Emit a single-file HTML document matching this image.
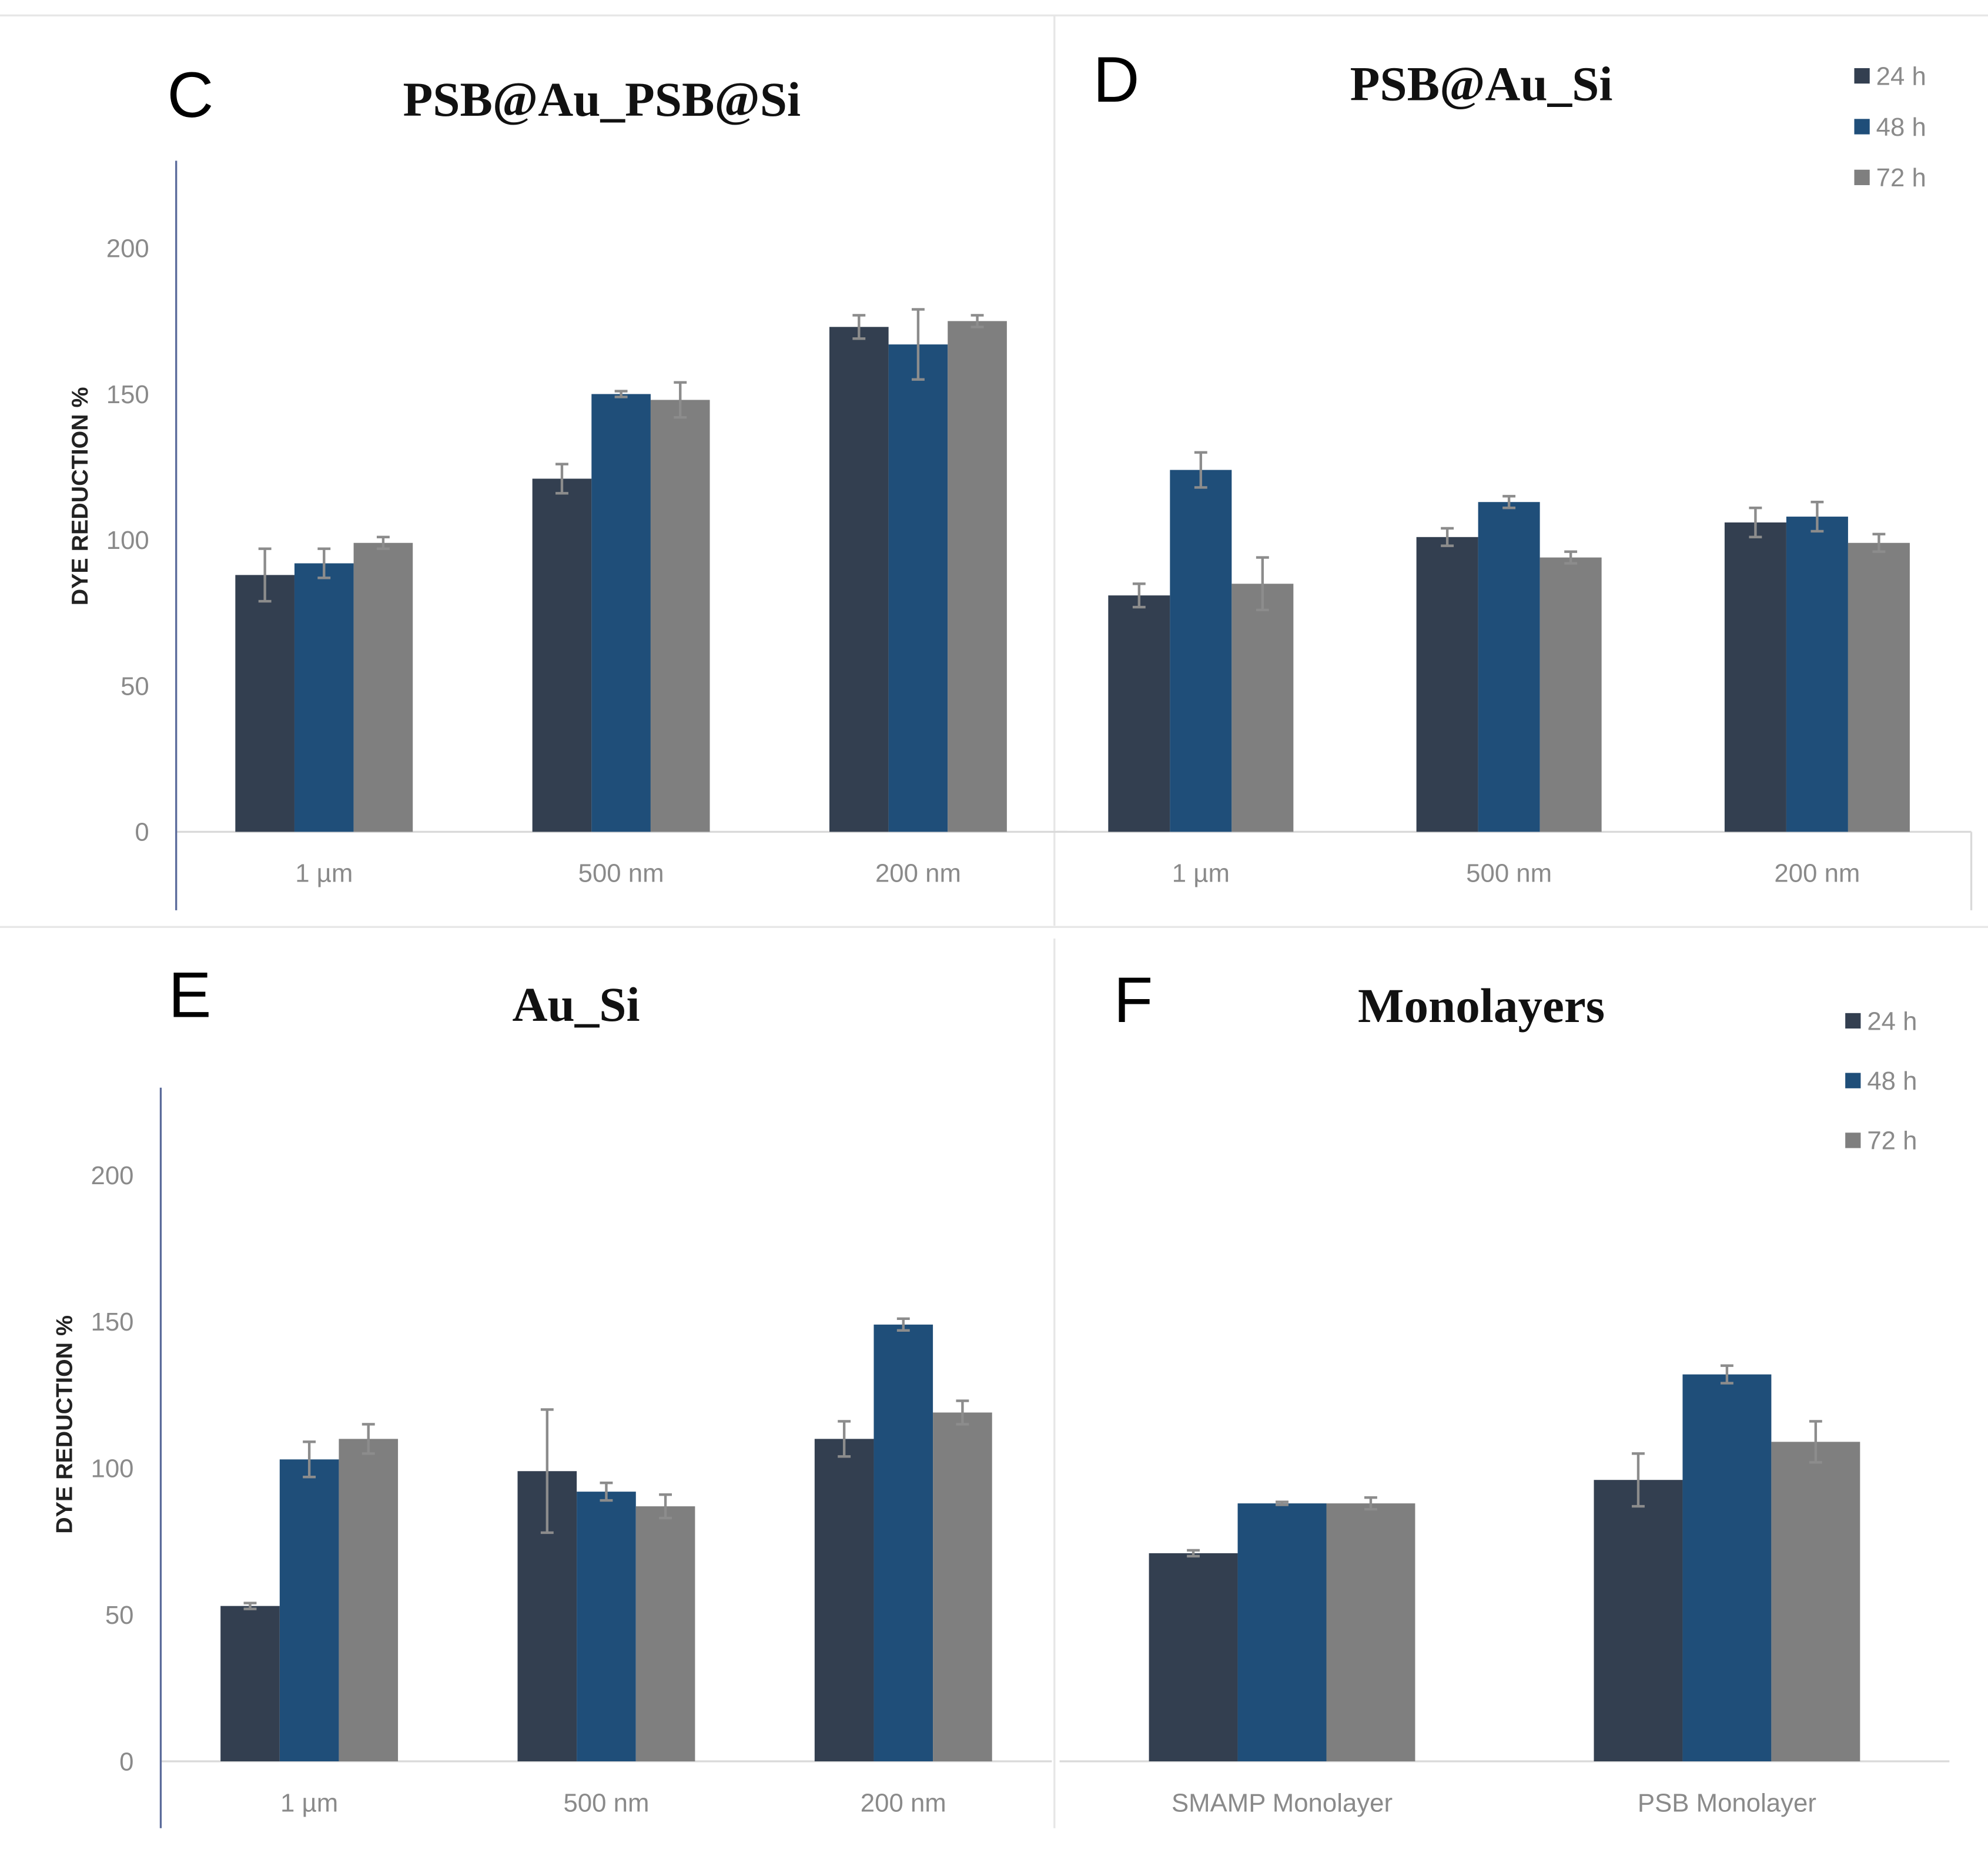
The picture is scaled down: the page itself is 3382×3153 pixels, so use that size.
<!DOCTYPE html>
<html><head><meta charset="utf-8"><style>
html,body{margin:0;padding:0;background:#fff;}
svg{display:block;}
</style></head><body>
<svg id="fig" width="3382" height="3153" viewBox="0 0 1546 1441.3" preserveAspectRatio="none" xmlns="http://www.w3.org/2000/svg">
<rect width="1546" height="1441.3" fill="#fff"/>
<g stroke="#e6e6e6" stroke-width="1.5">
<line x1="0" y1="12" x2="1546" y2="12"/>
<line x1="820" y1="12" x2="820" y2="720"/>
<line x1="0" y1="721" x2="1546" y2="721"/>
<line x1="820" y1="730" x2="820" y2="1422"/>
</g>
<g id="charts"></g>
</svg>
<script>
const seriesNames = ["24 h", "48 h", "72 h"];
const colors = ["#333f50", "#1f4e79", "#7f7f7f"];
const yTicks = [0, 50, 100, 150, 200];

const catsC = ["1 µm", "500 nm", "200 nm"];
const c24 = [88, 121, 173], c48 = [92, 150, 167], c72 = [99, 148, 175];
const cErr24 = [9, 5, 4], cErr48 = [5, 1, 12], cErr72 = [2, 6, 2];

const catsD = ["1 µm", "500 nm", "200 nm"];
const d24 = [81, 101, 106], d48 = [124, 113, 108], d72 = [85, 94, 99];
const dErr24 = [4, 3, 5], dErr48 = [6, 2, 5], dErr72 = [9, 2, 3];

const catsE = ["1 µm", "500 nm", "200 nm"];
const e24 = [53, 99, 110], e48 = [103, 92, 149], e72 = [110, 87, 119];
const eErr24 = [1, 21, 6], eErr48 = [6, 3, 2], eErr72 = [5, 4, 4];

const catsF = ["SMAMP Monolayer", "PSB Monolayer"];
const f24 = [71, 96], f48 = [88, 132], f72 = [88, 109];
const fErr24 = [1, 9], fErr48 = [0.5, 3], fErr72 = [2, 7];

const NS = "http://www.w3.org/2000/svg";
const root = document.getElementById("charts");
function mk(tag, attrs, parent, text) {
  const e = document.createElementNS(NS, tag);
  for (const k in attrs) e.setAttribute(k, attrs[k]);
  if (text !== undefined) e.textContent = text;
  parent.appendChild(e);
  return e;
}

function panel(p) {
  const g = mk("g", {}, root);
  
  
  const y = v => p.y0 - v * p.ppu;
  const groupW = (p.x1 - p.x0) / p.cats.length;
  const xc = i => p.x0 + groupW * (i + 0.5) + p.shift;
  const ax = mk("line", {x1: p.axStart, y1: p.y0, x2: p.x1, y2: p.y0, stroke: "#d9d9d9", "stroke-width": 1.5}, g);
  
  
  if (p.yAxis) {
    const ya = mk("line", {x1: p.axStart, y1: p.yTop, x2: p.axStart, y2: p.yBot, stroke: "#5a6a9a", "stroke-width": 1.5}, g);
    
    
    yTicks.forEach(t => {
      const tl = mk("text", {x: p.axStart - 21, y: y(t) + 7, "text-anchor": "end", "font-family": "Liberation Sans, sans-serif", "font-size": 20, fill: "#8a8a8a"}, g, t);
      
      
    });
    const yt = mk("text", {transform: `translate(${p.yTitleX},${p.yTitleY}) rotate(-90)`, "text-anchor": "middle", "font-family": "Liberation Sans, sans-serif", "font-size": 18, "font-weight": "bold", fill: "#222"}, g, "DYE  REDUCTION %");
    
    
  }
  if (p.rightEdge) {
    const re = mk("line", {x1: p.x1, y1: p.y0, x2: p.x1, y2: p.y0 + 61, stroke: "#d9d9d9", "stroke-width": 1.5}, g);
    
    
  }
  p.series.forEach((vals, s) => {
    vals.forEach((v, i) => {
      const bx = xc(i) - 1.5 * p.bw + s * p.bw;
      const r = mk("rect", {x: bx, y: y(v), width: p.bw, height: v * p.ppu, fill: colors[s]}, g);
      
      
      const e = p.errs[s][i], cx = bx + p.bw / 2;
      const eb = mk("path", {d: `M${cx} ${y(v + e)}V${y(v - e)}M${cx - 5} ${y(v + e)}h10M${cx - 5} ${y(v - e)}h10`, stroke: "#8c8c8c", "stroke-width": 2, fill: "none"}, g);
      
      
    });
  });
  p.cats.forEach((c, i) => {
    const t = mk("text", {x: xc(i), y: p.y0 + 39, "text-anchor": "middle", "font-family": "Liberation Sans, sans-serif", "font-size": 20, fill: "#8a8a8a"}, g, c);
    
    
  });
  const tt = mk("text", {x: p.titleX, y: p.titleY, "text-anchor": "middle", "font-family": "Liberation Serif, serif", "font-size": 38, "font-weight": "bold", fill: "#111"}, g, p.title);
  
  
  const lt = mk("text", {x: p.letterX, y: p.letterY, "font-family": "Liberation Sans, sans-serif", "font-size": 50, fill: "#000"}, g, p.letter);
  
  
  if (p.legend) {
    seriesNames.forEach((n, s) => {
      const ly = p.legend.y + s * p.legend.dy;
      const sq = mk("rect", {x: p.legend.x, y: ly - 6, width: 12, height: 12, fill: colors[s]}, g);
      
      
      const lx = mk("text", {x: p.legend.x + 17, y: ly + 7, "font-family": "Liberation Sans, sans-serif", "font-size": 20, fill: "#8a8a8a"}, g, n);
      
      
    });
  }
}

panel({id: "chart-c", cats: catsC, series: [c24, c48, c72], errs: [cErr24, cErr48, cErr72],
  x0: 137, x1: 830, shift: -0.5, axStart: 137, y0: 647, ppu: 2.27, bw: 46, yAxis: true, yTop: 125, yBot: 708, yTitleX: 68, yTitleY: 386,
  title: "PSB@Au_PSB@Si", titleX: 468, titleY: 90, letter: "C", letterX: 130, letterY: 91});
panel({id: "chart-d", cats: catsD, series: [d24, d48, d72], errs: [dErr24, dErr48, dErr72],
  x0: 814, x1: 1533, shift: 0, axStart: 822, y0: 647, ppu: 2.27, bw: 48, rightEdge: true,
  title: "PSB@Au_Si", titleX: 1152, titleY: 78, letter: "D", letterX: 850, letterY: 79,
  legend: {x: 1442, y: 59, dy: 39.5}});
panel({id: "chart-e", cats: catsE, series: [e24, e48, e72], errs: [eErr24, eErr48, eErr72],
  x0: 125, x1: 818, shift: 0, axStart: 125, y0: 1370, ppu: 2.28, bw: 46, yAxis: true, yTop: 846, yBot: 1422, yTitleX: 56, yTitleY: 1108,
  title: "Au_Si", titleX: 448, titleY: 794, letter: "E", letterX: 131, letterY: 791});
panel({id: "chart-f", cats: catsF, series: [f24, f48, f72], errs: [fErr24, fErr48, fErr72],
  x0: 824, x1: 1516, shift: 0, axStart: 824, y0: 1370, ppu: 2.28, bw: 69,
  title: "Monolayers", titleX: 1152, titleY: 795, letter: "F", letterX: 866, letterY: 795,
  legend: {x: 1435, y: 794, dy: 46.5}});
</script>
</body></html>
